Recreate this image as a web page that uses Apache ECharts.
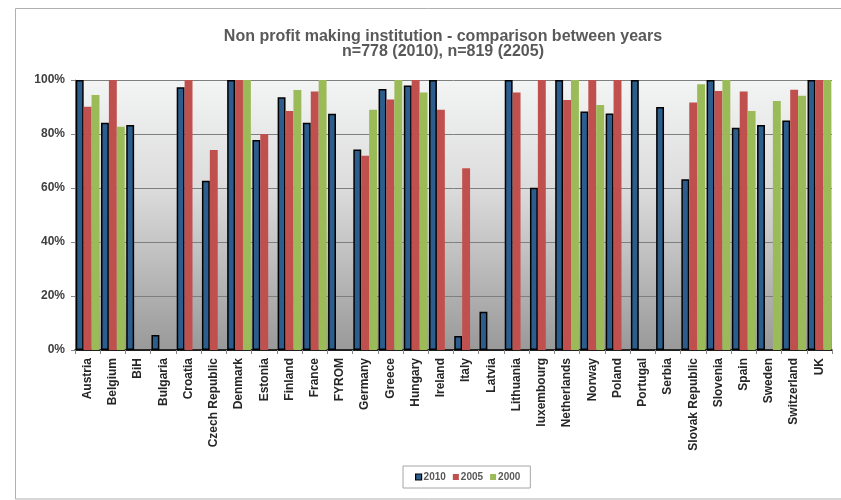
<!DOCTYPE html>
<html>
<head>
<meta charset="utf-8">
<script src="https://cdn.jsdelivr.net/npm/echarts@6/dist/echarts.min.js"></script>
<style>
  html, body { margin: 0; padding: 0; background: #fff; }
  #chart { width: 841px; height: 500px; }
</style>
</head>
<body>
<div id="chart"></div>
<script>
// countries on the x axis
var countries = ['Austria', 'Belgium', 'BiH', 'Bulgaria', 'Croatia', 'Czech Republic', 'Denmark',
  'Estonia', 'Finland', 'France', 'FYROM', 'Germany', 'Greece', 'Hungary', 'Ireland', 'Italy',
  'Latvia', 'Lithuania', 'luxembourg', 'Netherlands', 'Norway', 'Poland', 'Portugal', 'Serbia',
  'Slovak Republic', 'Slovenia', 'Spain', 'Sweden', 'Switzerland', 'UK'];

// values in %, null = no bar
var y2010 = [100, 84.2, 83.3, 5.6, 97.3, 62.7, 100, 77.8, 93.6, 84.2, 87.5, 74.3, 96.7, 98, 100, 5.2,
  14.2, 100, 60.1, 100, 88.3, 87.6, 100, 90, 63.2, 100, 82.3, 83.3, 85, 100];
var y2005 = [90.1, 100, null, null, 100, 74.1, 100, 80, 88.5, 95.7, null, 71.9, 92.8, 100, 89, 67.3,
  null, 95.4, 100, 92.6, 100, 100, null, null, 91.7, 95.9, 95.7, null, 96.4, 100];
var y2000 = [94.4, 82.7, null, null, null, null, 100, null, 96.3, 100, null, 89, 100, 95.4, null, null,
  null, null, null, 100, 90.7, null, null, null, 98.4, 100, 88.5, 92.2, 94.2, 100];

var chart = echarts.init(document.getElementById('chart'));

var option = {
  backgroundColor: '#fff',
  animation: false,
  title: {
    text: 'Non profit making institution - comparison between years\nn=778 (2010), n=819 (2205)',
    left: 443,
    top: 29,
    padding: 0,
    textAlign: 'center',
    textStyle: {
      fontFamily: 'Liberation Sans',
      fontSize: 16,
      fontWeight: 'bold',
      color: '#595959',
      lineHeight: 15
    }
  },
  // outer frame, right side runs off the page like in the source
  graphic: [{
    type: 'rect',
    shape: { x: 15.5, y: 8.5, width: 900, height: 490.5 },
    style: { fill: 'none', stroke: '#b0b0b0', lineWidth: 1 },
    silent: true,
    z: -1
  }],
  legend: {
    top: 466,
    left: 403,
    itemWidth: 6,
    itemHeight: 6,
    itemGap: 7,
    padding: [6, 10, 6, 12],
    borderColor: '#a6a6a6',
    borderWidth: 1,
    icon: 'rect',
    textStyle: {
      fontFamily: 'Liberation Sans',
      fontSize: 10,
      fontWeight: 'bold',
      color: '#595959',
      padding: [0, 0, 0, -3]
    },
    data: [
      { name: '2010', itemStyle: { borderColor: '#000', borderWidth: 1.2 } },
      { name: '2005' },
      { name: '2000' }
    ]
  },
  grid: {
    left: 75,
    right: 9,
    top: 80,
    bottom: 150,
    show: true,
    borderWidth: 0,
    backgroundColor: {
      type: 'linear', x: 0, y: 0, x2: 0, y2: 1,
      colorStops: [
        { offset: 0, color: '#f3f4f4' },
        { offset: 0.4, color: '#dcdcdc' },
        { offset: 1, color: '#999999' }
      ]
    }
  },
  xAxis: {
    type: 'category',
    data: countries,
    axisLine: { lineStyle: { color: '#000', width: 1.5 } },
    axisTick: { show: true, length: 4, lineStyle: { color: '#888' } },
    axisLabel: {
      interval: 0,
      rotate: 90,
      margin: 8,
      fontFamily: 'Liberation Sans',
      fontSize: 12,
      fontWeight: 'bold',
      color: '#262626'
    }
  },
  yAxis: {
    type: 'value',
    min: 0,
    max: 100,
    interval: 20,
    axisLine: { show: true, lineStyle: { color: '#888' } },
    axisTick: { show: true, length: 4, lineStyle: { color: '#888' } },
    splitLine: { lineStyle: { color: '#7f7f7f', width: 1 } },
    axisLabel: {
      formatter: '{value}%',
      margin: 10,
      fontFamily: 'Liberation Sans',
      fontSize: 12,
      fontWeight: 'bold',
      color: '#404040'
    }
  },
  series: [{
    name: '2010',
    type: 'bar',
    data: y2010,
    barGap: '0%',
    barCategoryGap: '6%',
    itemStyle: { color: '#2c5d8c', borderColor: '#000', borderWidth: 1.5 }
  }, {
    name: '2005',
    type: 'bar',
    data: y2005,
    itemStyle: { color: '#c0504d' }
  }, {
    name: '2000',
    type: 'bar',
    data: y2000,
    itemStyle: { color: '#9bbb59' }
  }]
};

chart.setOption(option);
</script>
</body>
</html>
